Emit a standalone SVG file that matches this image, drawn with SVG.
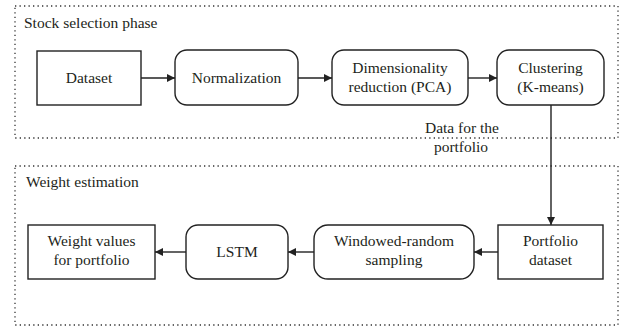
<svg xmlns="http://www.w3.org/2000/svg" width="620" height="328" viewBox="0 0 620 328" font-family="'Liberation Serif', 'DejaVu Serif', serif">
<defs>
<style>
.grp{fill:none;stroke:#333;stroke-width:1.3;stroke-dasharray:1.3 3.2}
.box{fill:#fff;stroke:#222;stroke-width:1.4}
text{font-family:'Liberation Serif','DejaVu Serif',serif;font-size:15.5px;fill:#231f20}
.c{text-anchor:middle}
.ln{fill:none;stroke:#222;stroke-width:1.4}
</style>
<marker id="ah" viewBox="0 0 10 10" refX="10" refY="5" markerWidth="10" markerHeight="8" markerUnits="userSpaceOnUse" orient="auto">
<path d="M0,0 L10,5 L0,10 z" fill="#222"/>
</marker>
</defs>
<rect fill="#fff" width="620" height="328"/>
<g id="stock-selection-phase">
<rect class="grp" x="15" y="6" width="603" height="132"/>
<text x="24" y="28">Stock selection phase</text>
</g>
<g id="weight-estimation">
<rect class="grp" x="15" y="166" width="603" height="159"/>
<text x="26" y="187">Weight estimation</text>
</g>
<g id="connectors">
<line class="ln" x1="141" y1="78" x2="175" y2="78" marker-end="url(#ah)"/>
<line class="ln" x1="298" y1="78" x2="332" y2="78" marker-end="url(#ah)"/>
<line class="ln" x1="468" y1="78" x2="497" y2="78" marker-end="url(#ah)"/>
<line class="ln" x1="551" y1="105" x2="551" y2="225" marker-end="url(#ah)"/>
<line class="ln" x1="498" y1="252" x2="474" y2="252" marker-end="url(#ah)"/>
<line class="ln" x1="314" y1="252" x2="288" y2="252" marker-end="url(#ah)"/>
<line class="ln" x1="186" y1="252" x2="155" y2="252" marker-end="url(#ah)"/>
<text class="c" x="462" y="133">Data for the</text>
<text class="c" x="461" y="152">portfolio</text>
</g>
<g id="dataset">
<rect class="box" x="37" y="51" width="104" height="54"/>
<text class="c" x="89" y="83">Dataset</text>
</g>
<g id="normalization">
<rect class="box" x="175" y="50" width="123" height="55" rx="12"/>
<text class="c" x="236.5" y="83">Normalization</text>
</g>
<g id="dimensionality-reduction">
<rect class="box" x="332" y="50" width="136" height="55" rx="12"/>
<text class="c" x="400" y="73">Dimensionality</text>
<text class="c" x="400" y="92">reduction (PCA)</text>
</g>
<g id="clustering">
<rect class="box" x="497" y="50" width="107" height="55" rx="12"/>
<text class="c" x="550.5" y="73">Clustering</text>
<text class="c" x="550.5" y="92">(K-means)</text>
</g>
<g id="portfolio-dataset">
<rect class="box" x="498" y="225" width="105" height="54"/>
<text class="c" x="550.5" y="246">Portfolio</text>
<text class="c" x="550.5" y="265">dataset</text>
</g>
<g id="windowed-random-sampling">
<rect class="box" x="314" y="225" width="160" height="54" rx="14"/>
<text class="c" x="394" y="246">Windowed-random</text>
<text class="c" x="394" y="265">sampling</text>
</g>
<g id="lstm">
<rect class="box" x="186" y="225" width="102" height="54" rx="12"/>
<text class="c" x="237" y="257">LSTM</text>
</g>
<g id="weight-values">
<rect class="box" x="28" y="225" width="127" height="54"/>
<text class="c" x="91.5" y="246">Weight values</text>
<text class="c" x="91.5" y="265">for portfolio</text>
</g>
</svg>
